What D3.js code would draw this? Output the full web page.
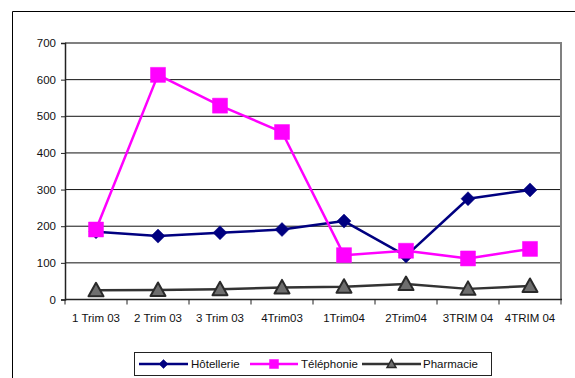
<!DOCTYPE html>
<html>
<head>
<meta charset="utf-8">
<script src="https://cdn.jsdelivr.net/npm/d3@7"></script>
<style>
  html, body { margin: 0; padding: 0; background: #fff; }
  svg { display: block; font-family: "Liberation Sans", Arial, sans-serif; }
</style>
</head>
<body>
<svg id="chart" width="575" height="378"></svg>
<script>
// Quarterly figures per sector
const quarters = ["1 Trim 03", "2 Trim 03", "3 Trim 03", "4Trim03", "1Trim04", "2Trim04", "3TRIM 04", "4TRIM 04"];
const hotellerie = [185, 173, 182, 191, 214, 119, 275, 299];
const telephonie = [191, 613, 529, 457, 121, 133, 112, 138];
const pharmacie = [25, 26, 28, 33, 35, 42, 29, 37];
const yTicks = [0, 100, 200, 300, 400, 500, 600, 700];
const seriesNames = ["Hôtellerie", "Téléphonie", "Pharmacie"];

const series = [
  { name: seriesNames[0], values: hotellerie, color: "#000080", marker: "diamond", fill: "#000080", stroke: "#000080" },
  { name: seriesNames[1], values: telephonie, color: "#ff00ff", marker: "square", fill: "#ff00ff", stroke: "#ff00ff" },
  { name: seriesNames[2], values: pharmacie, color: "#333333", marker: "triangle", fill: "#6e6e6e", stroke: "#2a2a2a" }
];

const FONT = 11.5;
const svg = d3.select("#chart");
const plot = { left: 65, right: 561, top: 43, bottom: 299.5 };

// Outer chart frame (left and top edges)
svg.append("path")
  .attr("d", "M12.5,378 V11.5 H575")
  .attr("fill", "none").attr("stroke", "#000").attr("stroke-width", 1);

const x = d3.scaleBand().domain(quarters).range([plot.left, plot.right]);
const y = d3.scaleLinear().domain([0, 700]).range([plot.bottom, plot.top]);

// Horizontal gridlines
svg.append("g").selectAll("line").data(yTicks.filter(d => d > 0)).join("line")
  .attr("x1", plot.left).attr("x2", plot.right)
  .attr("y1", d => y(d)).attr("y2", d => y(d))
  .attr("stroke", d => d === 700 ? "#808080" : "#111")
  .attr("stroke-width", d => d === 700 ? 2 : 1);

// Plot area right border (gray)
svg.append("line")
  .attr("x1", plot.right).attr("x2", plot.right)
  .attr("y1", plot.top - 1).attr("y2", plot.bottom)
  .attr("stroke", "#808080").attr("stroke-width", 2);

// Y axis
const yAxis = svg.append("g")
  .attr("transform", `translate(${plot.left},0)`)
  .call(d3.axisLeft(y).tickValues(yTicks).tickSize(4).tickPadding(5));
yAxis.select(".domain").attr("stroke", "#222").attr("stroke-width", 1.5);
yAxis.selectAll(".tick line").attr("stroke", "#222");
yAxis.selectAll("text").attr("font-size", FONT).attr("fill", "#111")
  .attr("font-family", "Liberation Sans, Arial, sans-serif");

// X axis with ticks between categories
const xAxis = svg.append("g")
  .attr("transform", `translate(0,${plot.bottom})`);
xAxis.append("line")
  .attr("x1", plot.left).attr("x2", plot.right + 1)
  .attr("stroke", "#222").attr("stroke-width", 1.5);
const bounds = quarters.map(q => x(q)).concat([plot.right]);
xAxis.selectAll("line.tick").data(bounds).join("line")
  .attr("class", "tick")
  .attr("x1", d => d).attr("x2", d => d)
  .attr("y1", 0).attr("y2", 5)
  .attr("stroke", "#222");
xAxis.selectAll("text").data(quarters).join("text")
  .attr("x", d => x(d) + x.bandwidth() / 2)
  .attr("y", 22)
  .attr("text-anchor", "middle")
  .attr("font-size", FONT).attr("fill", "#111")
  .text(d => d);

// Marker shapes
function markerPath(type, s) {
  const h = s / 2;
  if (type === "diamond") return `M0,${-h} L${h},0 L0,${h} L${-h},0 Z`;
  if (type === "square") return `M${-h},${-h} H${h} V${h} H${-h} Z`;
  return `M0,${-h} L${h},${h * 0.8} L${-h},${h * 0.8} Z`;
}
const markerSize = { diamond: 14, square: 15, triangle: 15 };

const cx = q => x(q) + x.bandwidth() / 2;
const line = d3.line().x((d, i) => cx(quarters[i])).y(d => y(d));

// Lines and markers, drawn in series order
series.forEach(s => {
  const g = svg.append("g");
  g.append("path")
    .attr("d", line(s.values))
    .attr("fill", "none")
    .attr("stroke", s.color)
    .attr("stroke-width", 2.5)
    .attr("stroke-linejoin", "round");
  g.selectAll("path.m").data(s.values).join("path")
    .attr("class", "m")
    .attr("transform", (d, i) => `translate(${cx(quarters[i])},${y(d)})`)
    .attr("d", markerPath(s.marker, markerSize[s.marker]))
    .attr("fill", s.fill)
    .attr("stroke", s.stroke)
    .attr("stroke-width", s.marker === "triangle" ? 2 : 0.5)
    .attr("stroke-linejoin", "round");
});

// Legend
const legend = svg.append("g");
legend.append("rect")
  .attr("x", 134.5).attr("y", 352.5).attr("width", 357).attr("height", 23)
  .attr("fill", "#fff").attr("stroke", "#222").attr("stroke-width", 1);
const legendItems = [
  { s: series[0], x0: 139, x1: 188, tx: 191 },
  { s: series[1], x0: 250, x1: 298, tx: 301 },
  { s: series[2], x0: 362, x1: 421, tx: 423 }
];
const ly = 364;
legendItems.forEach(it => {
  legend.append("line")
    .attr("x1", it.x0).attr("x2", it.x1).attr("y1", ly).attr("y2", ly)
    .attr("stroke", it.s.color).attr("stroke-width", 2.5);
  legend.append("path")
    .attr("transform", `translate(${(it.x0 + it.x1) / 2},${ly})`)
    .attr("d", markerPath(it.s.marker, 9))
    .attr("fill", it.s.fill)
    .attr("stroke", it.s.stroke)
    .attr("stroke-width", it.s.marker === "triangle" ? 1.5 : 0.5);
  legend.append("text")
    .attr("x", it.tx).attr("y", ly + 4)
    .attr("font-size", FONT).attr("fill", "#111")
    .text(it.s.name);
});
</script>
</body>
</html>
